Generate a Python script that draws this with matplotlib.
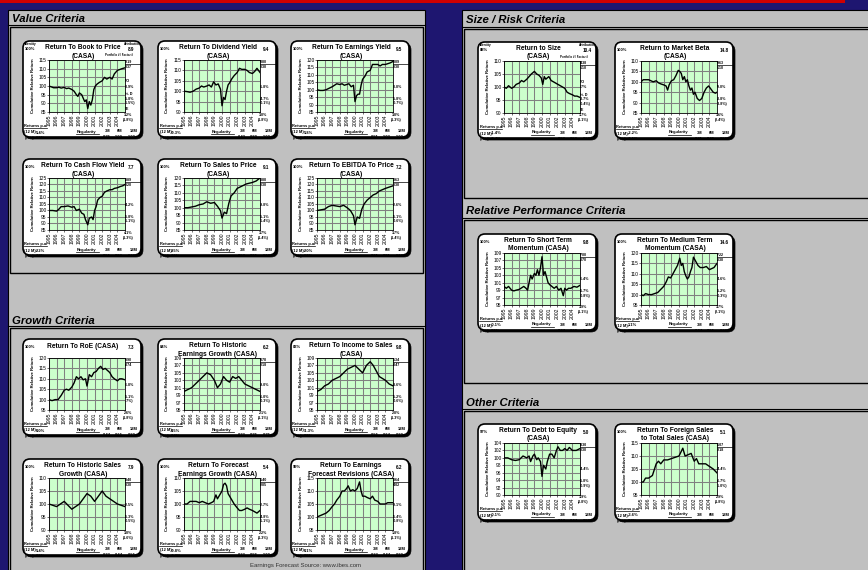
import numpy as np
import matplotlib
matplotlib.use("Agg")
import matplotlib.pyplot as plt
from matplotlib.patches import Rectangle, FancyBboxPatch

plt.rcParams['font.family'] = ['Liberation Sans', 'DejaVu Sans']

# ---------------- data ----------------
titles_1 = ["Return To Book to Price", "Return To Dividend Yield", "Return To Earnings Yield",
            "Return To Cash Flow Yield", "Return To Sales to Price", "Return To EBITDA To Price",
            "Return To RoE (CASA)", "Return To Historic", "Return To Income to Sales",
            "Return To Historic Sales", "Return To Forecast", "Return To Earnings",
            "Return to Size", "Return to Market Beta",
            "Return To Short Term", "Return To Medium Term",
            "Return To Debt to Equity", "Return To Foreign Sales"]
titles_2 = ["(CASA)", "(CASA)", "(CASA)", "(CASA)", "(CASA)", "(CASA)",
            "", "Earnings Growth (CASA)", "(CASA)", "Growth (CASA)", "Earnings Growth (CASA)",
            "Forecast Revisions (CASA)", "(CASA)", "(CASA)", "Momentum (CASA)", "Momentum (CASA)",
            "(CASA)", "to Total Sales (CASA)"]
identity = ["100%", "100%", "100%", "100%", "100%", "100%", "100%", "84%", "83%",
            "100%", "100%", "99%", "88%", "100%", "100%", "100%", "97%", "100%"]
attrib = ["8.9", "9.4", "9.5", "7.7", "9.1", "7.2", "7.3", "6.2", "9.8",
          "7.9", "5.4", "6.2", "10.4", "14.8", "9.8", "14.6", "5.0", "5.1"]
port_no = ["1219", "6080", "7009", "8089", "8088", "8063", "6890", "6878", "5534",
           "3840", "5140", "3864", "3438", "9963", "9700", "9722", "4830", "3107"]
fact_no = ["2037", "2030", "2030", "2020", "2030", "2030", "1074", "2018", "1047",
           "2030", "8205", "9402", "2110", "2110", "3070", "3030", "2030", "1218"]
turnover = ["23.9%", "21.8%", "28.8%", "34.2%", "19.8%", "22.6%", "26.8%", "19.0%", "18.6%",
            "22.5%", "52.7%", "79.1%", "8.7%", "29.0%", "96.4%", "64.6%", "14.4%", "14.4%"]
st_dev = ["15.8%", "14.7%", "15.8%", "15.8%", "15.1%", "15.1%", "15.1%", "16.0%", "15.2%",
          "15.3%", "14.8%", "15.4%", "13.7%", "18.8%", "15.7%", "15.2%", "15.8%", "16.7%"]
st_dev2 = ["(11.5%)", "(10.1%)", "(10.7%)", "(11.1%)", "(11.4%)", "(10.6%)", "(9.7%)", "(10.3%)",
           "(10.6%)", "(10.5%)", "(11.1%)", "(10.8%)", "(10.4%)", "(13.8%)", "(10.8%)", "(10.3%)",
           "(10.9%)", "(11.0%)"]
track_err = ["3.2%", "3.0%", "3.8%", "4.1%", "3.7%", "3.7%", "2.6%", "2.1%", "2.8%",
             "3.0%", "2.2%", "1.8%", "1.7%", "3.6%", "3.9%", "3.7%", "1.9%", "2.9%"]
track_err2 = ["(1.8%)", "(1.8%)", "(1.3%)", "(1.3%)", "(1.4%)", "(1.4%)", "(1.8%)", "(1.1%)",
              "(1.3%)", "(1.6%)", "(1.3%)", "(1.1%)", "(1.1%)", "(2.4%)", "(1.1%)", "(2.1%)",
              "(0.8%)", "(1.8%)"]
ret_12m = ["1.4%", "-0.3%", "1.8%", "2.2%", "2.5%", "2.0%", "0.0%", "0.5%", "-1.3%",
           "1.4%", "-0.8%", "0.1%", "-1.4%", "-2.2%", "-0.1%", "1.1%", "-0.1%", "-3.6%"]
ret_tot = ["1.6%", "2.0%", "1.9%", "2.3%", "2.0%", "1.8%", "1.0%", "0.4%", "0.9%",
           "0.8%", "-0.3%", "0.5%", "-0.4%", "-0.5%", "0.0%", "1.5%", "0.2%", "0.3%"]
reg_3m = ["0.75", "0.43", "0.51", "0.55", "0.53", "0.61", "0.44", "0.32", "0.55",
          "0.33", "0.22", "0.22", "0.53", "0.31", "0.34", "0.44", "0.17", "0.16"]
reg_6m = ["1.00", "0.80", "1.03", "0.92", "0.95", "0.91", "0.65", "0.35", "0.64",
          "0.44", "0.56", "0.44", "0.53", "0.46", "0.60", "0.65", "0.44", "0.01"]
reg_12m = ["1.00", "1.00", "1.00", "1.00", "1.00", "1.00", "0.80", "0.75", "0.80",
           "0.55", "1.00", "0.80", "0.50", "0.50", "0.50", "0.80", "0.50", "0.50"]

years = [1995, 1996, 1997, 1998, 1999, 2000, 2001, 2002, 2003, 2004]

bp_x = [1995.0, 1995.3, 1995.6, 1996.0, 1996.3, 1996.6, 1997.0, 1997.3, 1997.6, 1998.0, 1998.3, 1998.6,
        1998.8, 1999.0, 1999.3, 1999.5, 1999.7, 1999.9, 2000.1, 2000.3, 2000.5, 2000.7, 2000.9, 2001.1,
        2001.3, 2001.6, 2002.0, 2002.3, 2002.6, 2003.0, 2003.3, 2003.6, 2004.0, 2004.3, 2004.6, 2005.0]
bp_y = [100, 99.5, 99, 99, 99.3, 98.8, 99.2, 98.5, 98.8, 98, 97, 95, 94, 96, 95, 93, 91, 92, 87, 91, 89,
        92, 98, 100, 101, 102, 103, 105, 104, 105, 104, 107, 109, 109.5, 110, 110.5]

dy_x = [1995.0, 1995.4, 1995.8, 1996.2, 1996.6, 1997.0, 1997.3, 1997.6, 1998.0, 1998.3, 1998.6, 1998.9,
        1999.2, 1999.5, 1999.8, 2000.0, 2000.2, 2000.4, 2000.6, 2000.8, 2001.0, 2001.3, 2001.6, 2002.0,
        2002.3, 2002.6, 2003.0, 2003.3, 2003.6, 2004.0, 2004.3, 2004.6, 2005.0]
dy_y = [100, 99.8, 99.5, 100, 101, 101.5, 102.5, 102, 102.5, 103, 102, 104.5, 103, 103.5, 101, 93, 97,
        96, 100, 103, 104, 106, 107.5, 109, 111, 110.5, 110.5, 110, 109, 108.5, 109.5, 111, 109]

ey_x = [1995.0, 1995.4, 1995.8, 1996.2, 1996.6, 1997.0, 1997.3, 1997.6, 1998.0, 1998.3, 1998.6, 1998.9,
        1999.2, 1999.5, 1999.8, 2000.0, 2000.2, 2000.4, 2000.6, 2000.8, 2001.0, 2001.3, 2001.6, 2002.0,
        2002.3, 2002.6, 2003.0, 2003.3, 2003.6, 2004.0, 2004.3, 2004.6, 2005.0]
ey_y = [100, 99.5, 99.5, 100, 101, 102, 103, 104, 103.5, 104, 103, 103.5, 104, 102, 103, 92, 96, 97, 97,
        103, 107, 109, 112, 113, 117, 117, 117, 116, 117, 117, 117.5, 118, 119]

cf_x = [1995.0, 1995.5, 1996.0, 1996.3, 1996.6, 1997.0, 1997.5, 1998.0, 1998.3, 1998.6, 1999.0, 1999.3,
        1999.6, 1999.8, 2000.1, 2000.3, 2000.6, 2000.8, 2001.0, 2001.2, 2001.4, 2001.7, 2002.0, 2002.3,
        2002.6, 2003.0, 2003.3, 2003.6, 2004.0, 2004.4, 2004.7, 2005.0]
cf_y = [100, 100, 99.5, 101, 103, 103, 103.5, 102.5, 103, 100, 101, 98, 97, 93, 89, 94, 95, 93, 100, 103,
        108, 110, 111, 114, 115, 116, 116, 117, 117.5, 118.5, 119, 120]

sp_x = [1995.0, 1995.5, 1996.0, 1996.5, 1997.0, 1997.5, 1998.0, 1998.5, 1999.0, 1999.4, 1999.8, 2000.0,
        2000.3, 2000.6, 2000.9, 2001.2, 2001.6, 2002.0, 2002.4, 2002.8, 2003.2, 2003.6, 2004.0, 2004.5,
        2005.0]
sp_y = [100, 100, 100.5, 101, 102, 102.5, 104, 103, 103.5, 101, 98, 93, 97, 96, 103, 108, 110, 113,
        114, 115, 116, 116.5, 117, 118, 120]

eb_x = [1995.0, 1995.5, 1996.0, 1996.5, 1997.0, 1997.5, 1998.0, 1998.5, 1999.0, 1999.4, 1999.8, 2000.0,
        2000.3, 2000.6, 2000.9, 2001.2, 2001.6, 2002.0, 2002.4, 2002.8, 2003.2, 2003.6, 2004.0, 2004.5,
        2005.0]
eb_y = [100, 100.5, 101, 103, 104, 103.5, 103, 104, 102, 100, 96, 89, 95, 94, 101, 105, 108, 110, 112,
        113, 115, 116, 117, 118, 119]

roe_x = [1995.0, 1995.4, 1995.8, 1996.2, 1996.6, 1997.0, 1997.3, 1997.6, 1998.0, 1998.3, 1998.6, 1998.9,
         1999.2, 1999.5, 1999.8, 2000.0, 2000.3, 2000.6, 2000.9, 2001.2, 2001.5, 2001.8, 2002.1, 2002.4,
         2002.7, 2003.0, 2003.3, 2003.6, 2004.0, 2004.3, 2004.6, 2005.0]
roe_y = [100, 99.5, 100, 100, 102, 104.5, 105, 104.5, 106, 108, 111, 110, 111, 109.5, 110, 106.5, 112,
         111, 113, 113.5, 115, 116, 114.5, 115, 114, 113, 111, 110, 109, 110, 110, 109.5]

heg_x = [1995.0, 1995.5, 1996.0, 1996.5, 1997.0, 1997.5, 1998.0, 1998.5, 1999.0, 1999.4, 1999.8, 2000.2,
         2000.6, 2001.0, 2001.4, 2001.8, 2002.2, 2002.6, 2003.0, 2003.5, 2004.0, 2004.5, 2005.0]
heg_y = [100, 100.5, 101, 102, 103, 104, 105, 104.5, 103, 101, 102, 104, 103, 102.5, 104, 103.5, 104,
         103, 102, 101.5, 101, 100.5, 100]

ins_x = [1995.0, 1995.5, 1996.0, 1996.5, 1997.0, 1997.5, 1998.0, 1998.5, 1999.0, 1999.5, 2000.0, 2000.5,
         2001.0, 2001.5, 2002.0, 2002.4, 2002.8, 2003.2, 2003.6, 2004.0, 2004.5, 2005.0]
ins_y = [100, 100.5, 101.5, 102, 103, 103.5, 104, 105, 106, 106.5, 107, 106, 105, 107, 108, 107, 105.5,
         104, 103.5, 103, 102, 101.5]

hsg_x = [1995.0, 1995.5, 1996.0, 1996.5, 1997.0, 1997.5, 1998.0, 1998.5, 1999.0, 1999.5, 2000.0, 2000.5,
         2001.0, 2001.5, 2002.0, 2002.5, 2003.0, 2003.5, 2004.0, 2004.5, 2005.0]
hsg_y = [100, 99.5, 99, 100, 101, 99.5, 98, 99, 100, 102, 104, 103, 101, 103, 105, 103, 102, 101, 100,
         99.5, 99]

feg_x = [1995.0, 1995.4, 1995.8, 1996.2, 1996.6, 1997.0, 1997.4, 1997.8, 1998.2, 1998.6, 1998.9, 1999.2,
         1999.4, 1999.6, 1999.8, 2000.0, 2000.2, 2000.4, 2000.6, 2000.8, 2001.0, 2001.3, 2001.6, 2002.0,
         2002.3, 2002.6, 2003.0, 2003.3, 2003.6, 2004.0, 2004.3, 2004.6, 2005.0]
feg_y = [100, 100, 101, 101, 101, 100.5, 101, 100.5, 100, 100.5, 101, 103.5, 102, 103, 104, 105, 107.5,
         108, 107, 104, 103, 101.5, 100, 98.5, 97.5, 97.5, 98, 98.5, 98, 97.5, 97, 96.5, 97.5]

efr_x = [1995.0, 1995.4, 1995.8, 1996.2, 1996.6, 1997.0, 1997.3, 1997.6, 1998.0, 1998.3, 1998.6, 1998.9,
         1999.1, 1999.4, 1999.7, 2000.0, 2000.3, 2000.6, 2000.8, 2001.0, 2001.3, 2001.6, 2002.0, 2002.3,
         2002.6, 2003.0, 2003.3, 2003.6, 2004.0, 2004.3, 2004.6, 2005.0]
efr_y = [100, 100.5, 101, 101.5, 102.5, 104, 105, 106.5, 108, 110, 110, 111, 112, 110, 110.5, 110, 111,
         113.5, 110, 108, 108, 107.5, 107, 108, 106.5, 106, 105, 105, 105, 105.5, 105.5, 105.5]

sz_x = [1995.0, 1995.3, 1995.6, 1996.0, 1996.3, 1996.6, 1997.0, 1997.3, 1997.6, 1998.0, 1998.3, 1998.6,
        1999.0, 1999.3, 1999.6, 1999.9, 2000.1, 2000.3, 2000.5, 2000.7, 2000.9, 2001.2, 2001.5, 2001.8,
        2002.1, 2002.4, 2002.7, 2003.0, 2003.3, 2003.6, 2004.0, 2004.3, 2004.6, 2005.0]
sz_y = [100, 99.5, 100.5, 99.5, 100, 101, 101.5, 102.5, 102, 103, 104, 105, 106, 105, 104.5, 103.5, 101,
        104, 103, 103.5, 104, 102.5, 102, 101.5, 101, 100.5, 100, 99.5, 98, 97.5, 97, 96.5, 96.5, 96]

mb_x = [1995.0, 1995.3, 1995.6, 1996.0, 1996.3, 1996.6, 1997.0, 1997.3, 1997.6, 1998.0, 1998.3, 1998.5,
        1998.7, 1999.0, 1999.3, 1999.6, 1999.9, 2000.1, 2000.3, 2000.5, 2000.7, 2000.9, 2001.1, 2001.3,
        2001.5, 2001.7, 2001.9, 2002.1, 2002.4, 2002.7, 2003.0, 2003.3, 2003.6, 2003.9, 2004.2, 2004.5,
        2004.8, 2005.0]
mb_y = [100, 101, 101, 101, 100.5, 100, 100.5, 99.5, 99, 98.5, 98, 96, 98.5, 100.5, 101, 103, 105.5, 105,
        104, 101, 102.5, 100, 101, 98, 96, 97, 94, 95, 92, 91, 92, 95, 97, 98, 96.5, 95, 94.5, 95]

stm_x = [1995.0, 1995.3, 1995.6, 1996.0, 1996.3, 1996.6, 1997.0, 1997.3, 1997.6, 1997.9, 1998.1, 1998.3,
         1998.5, 1998.7, 1999.0, 1999.2, 1999.4, 1999.6, 1999.8, 2000.0, 2000.2, 2000.4, 2000.6, 2000.8,
         2001.0, 2001.3, 2001.6, 2001.9, 2002.2, 2002.5, 2002.8, 2003.0, 2003.2, 2003.5, 2003.8, 2004.2,
         2004.6, 2005.0]
stm_y = [100, 99.5, 100, 99, 98.8, 99, 99.2, 99.6, 100, 99.5, 99, 101, 103, 102, 103.5, 103, 104.5, 103,
         105, 108, 103, 104, 102.5, 101, 100.5, 100, 99.5, 100, 99, 99.5, 97.5, 99.5, 99, 99.5, 99.5, 100,
         99.8, 100.3]

mtm_x = [1995.0, 1995.3, 1995.6, 1996.0, 1996.4, 1996.8, 1997.2, 1997.6, 1998.0, 1998.3, 1998.6, 1998.9,
         1999.2, 1999.5, 1999.8, 2000.1, 2000.3, 2000.5, 2000.7, 2000.9, 2001.1, 2001.3, 2001.5, 2001.7,
         2001.9, 2002.2, 2002.5, 2002.8, 2003.2, 2003.6, 2004.0, 2004.3, 2004.6, 2005.0]
mtm_y = [100, 99.5, 100.5, 100, 100, 100.5, 101, 102.5, 104, 106, 108.5, 108, 110, 112, 114, 117.5, 114,
         115, 111, 109, 107.5, 108.5, 111, 113, 118, 116, 114, 113, 113, 113.5, 112, 112.5, 113, 115]

de_x = [1995.0, 1995.5, 1996.0, 1996.5, 1997.0, 1997.5, 1998.0, 1998.3, 1998.5, 1998.8, 1999.0, 1999.3,
        1999.5, 1999.8, 2000.0, 2000.2, 2000.5, 2000.7, 2001.0, 2001.3, 2001.6, 2001.9, 2002.1, 2002.4,
        2002.7, 2003.0, 2003.3, 2003.6, 2004.0, 2004.5, 2005.0]
de_y = [100, 100, 99.5, 99.3, 99.5, 100.5, 100, 100.5, 99, 100.5, 101, 99.5, 100, 99, 95, 98, 97, 99,
        101, 101, 100, 102, 103, 102, 102, 102.5, 102, 102.8, 102, 102, 102.5]

fs_x = [1995.0, 1995.3, 1995.6, 1996.0, 1996.5, 1997.0, 1997.3, 1997.6, 1998.0, 1998.5, 1999.0, 1999.5,
        2000.0, 2000.5, 2000.8, 2001.2, 2001.6, 2002.0, 2002.3, 2002.6, 2003.0, 2003.5, 2004.0, 2004.5,
        2005.0]
fs_y = [100, 100, 101.5, 101.5, 102.5, 107, 108, 107, 108.5, 108.5, 109, 109.5, 110, 113, 110, 110.5,
        111, 108, 109, 107, 107, 107, 106, 105, 103.5]

series_x = [bp_x, dy_x, ey_x, cf_x, sp_x, eb_x, roe_x, heg_x, ins_x, hsg_x, feg_x, efr_x,
            sz_x, mb_x, stm_x, mtm_x, de_x, fs_x]
series_y = [bp_y, dy_y, ey_y, cf_y, sp_y, eb_y, roe_y, heg_y, ins_y, hsg_y, feg_y, efr_y,
            sz_y, mb_y, stm_y, mtm_y, de_y, fs_y]
y_lo = [85, 90, 85, 85, 85, 85, 95, 95, 95, 90, 90, 95, 90, 85, 95, 95, 90, 95]
y_hi = [115, 115, 120, 125, 120, 125, 120, 109, 109, 110, 110, 115, 110, 110, 109, 120, 104, 115]
y_step = [5, 5, 5, 5, 5, 5, 5, 2, 2, 5, 5, 5, 5, 5, 2, 5, 2, 5]

# ---------------- layout (pixels) ----------------
W, H = 868, 570
NAVY = '#1E1670'
PANEL = '#C0C0C0'
GREEN = '#CCFFCC'
CW, CH = 120, 98

fig = plt.figure(figsize=(W / 100, H / 100), dpi=100)
fig.patch.set_facecolor(NAVY)


def px_axes(x, y, w, h):
    return fig.add_axes([x / W, 1 - (y + h) / H, w / W, h / H])


bg = px_axes(0, 0, W, H)
bg.set_xlim(0, W)
bg.set_ylim(H, 0)
bg.axis('off')

bg.add_patch(Rectangle((0, 0), 845, 3, fc='#D00000', ec='none'))

# left panel
bg.add_patch(Rectangle((8, 10), 417, 565, fc=PANEL, ec='black', lw=0.8))
bg.text(12, 18.5, "Value Criteria", fontsize=8.2, fontweight='bold', fontstyle='italic', va='center')
bg.plot([8, 425], [25, 25], color='black', lw=0.8)
bg.add_patch(Rectangle((10, 27), 413, 246, fc='none', ec='black', lw=1.0))
bg.text(12, 320.5, "Growth Criteria", fontsize=8.2, fontweight='bold', fontstyle='italic', va='center')
bg.plot([8, 425], [326, 326], color='black', lw=0.8)
bg.add_patch(Rectangle((10, 328), 413, 250, fc='none', ec='black', lw=1.0))
bg.text(305, 566, "Earnings Forecast Source: www.ibes.com", fontsize=4.3, color='#333333',
        ha='center', va='center')

# right panel
bg.add_patch(Rectangle((462, 10), 410, 565, fc=PANEL, ec='black', lw=0.8))
bg.text(466, 20, "Size / Risk Criteria", fontsize=8.2, fontweight='bold', fontstyle='italic', va='center')
bg.plot([462, 868], [27, 27], color='black', lw=0.8)
bg.add_patch(Rectangle((464, 29), 410, 169, fc='none', ec='black', lw=1.0))
bg.text(466, 211.5, "Relative Performance Criteria", fontsize=8.2, fontweight='bold',
        fontstyle='italic', va='center')
bg.plot([462, 868], [218, 218], color='black', lw=0.8)
bg.add_patch(Rectangle((464, 220), 410, 163, fc='none', ec='black', lw=1.0))
bg.text(466, 402.5, "Other Criteria", fontsize=8.2, fontweight='bold', fontstyle='italic', va='center')
bg.plot([462, 868], [409, 409], color='black', lw=0.8)
bg.add_patch(Rectangle((464, 411), 410, 165, fc='none', ec='black', lw=1.0))

card_pos = [(22, 40), (157, 40), (290, 40), (22, 158), (157, 158), (290, 158),
            (22, 338), (157, 338), (290, 338), (22, 458), (157, 458), (290, 458),
            (477, 41), (614, 41), (477, 233), (614, 233), (477, 423), (614, 423)]
with_labels = [0, 12]


def draw_card(k, cx, cy):
    cax = px_axes(cx, cy, CW + 3, CH + 3)
    cax.set_xlim(0, CW + 3)
    cax.set_ylim(CH + 3, 0)
    cax.axis('off')
    style = 'round,pad=0,rounding_size=7'
    cax.add_patch(FancyBboxPatch((3, 3), CW - 2, CH - 2, boxstyle=style, fc='black', ec='black', lw=0.5))
    body = FancyBboxPatch((1, 1), CW - 2, CH - 2, boxstyle=style, fc='white', ec='black', lw=1.2)
    cax.add_patch(body)

    def t(x, y, s, fs=2.6, **kw):
        tx = cax.text(x, y, s, fontsize=fs, fontweight='bold', va='center', clip_on=True, **kw)
        tx.set_clip_path(body)

    def ul(x0, x1, y):
        ln, = cax.plot([x0, x1], [y, y], color='black', lw=0.5, clip_on=True)
        ln.set_clip_path(body)

    if k in with_labels:
        t(2.5, 4, "Identity", 2.3)
        t(102, 4, "Attribution", 2.3)
        t(83, 15.5, "Portfolio # / Factor #", 2.1)
        t(102, 41, "T/O", 2.7)
        t(102, 54, "St. D", 2.7)
        t(102, 69, "T.E", 2.7)
    t(2.5, 9, identity[k], 2.9)
    if titles_2[k]:
        t(61, 7.5, titles_1[k], 4.8, ha='center')
        t(61, 16, titles_2[k], 4.8, ha='center')
    else:
        t(61, 8, titles_1[k], 4.8, ha='center')
    t(106, 9.5, attrib[k], 3.3)
    t(102, 22, port_no[k], 2.6)
    ul(101, 121, 24.3)
    t(102, 27, fact_no[k], 2.6)
    t(102, 46.5, turnover[k], 2.6)
    t(102, 58.5, st_dev[k], 2.6)
    t(101, 63, st_dev2[k], 2.6)
    t(102, 74.5, track_err[k], 2.6)
    t(101, 79.5, track_err2[k], 2.6)
    t(2.5, 86, "Returns p.a.", 2.9)
    ul(2, 25, 88.3)
    t(2.5, 92.5, "(12 M):", 2.9)
    t(14, 92.5, ret_12m[k], 2.9)
    t(2.5, 98, "(Tot.):", 2.9)
    t(14, 98, ret_tot[k], 2.9)
    t(55, 91.5, "Regularity", 2.9)
    ul(54, 77, 94)
    t(83, 91.5, "3M", 2.9)
    t(94.5, 91.5, "6M", 2.9)
    t(108, 91.5, "12M", 2.9)
    t(81, 97.5, reg_3m[k], 2.9)
    t(93, 97.5, reg_6m[k], 2.9)
    t(106, 97.5, reg_12m[k], 2.9)
    t(10.5, 46, "Cumulative Relative Return", 3.1, rotation=90, ha='center')

    pax = px_axes(cx + 27, cy + 20, 76, 52)
    pax.set_facecolor(GREEN)
    pax.plot(series_x[k], series_y[k], color='black', lw=1.0)
    pax.set_xlim(1995, 2005)
    pax.set_ylim(y_lo[k], y_hi[k])
    pax.set_xticks(years)
    pax.set_xticklabels([str(y) for y in years], rotation=90, fontsize=3.7)
    pax.set_yticks(np.arange(y_lo[k], y_hi[k] + 0.1, y_step[k]))
    pax.tick_params(axis='y', labelsize=3.5, length=1.2, width=0.4, pad=0.6)
    pax.tick_params(axis='x', length=1.2, width=0.4, pad=0.6)
    pax.grid(True, color='#808080', lw=0.75)
    for sp in pax.spines.values():
        sp.set_linewidth(0.6)


for k, (cx, cy) in enumerate(card_pos):
    draw_card(k, cx, cy)

plt.savefig("out.png", dpi=100, facecolor=NAVY)
